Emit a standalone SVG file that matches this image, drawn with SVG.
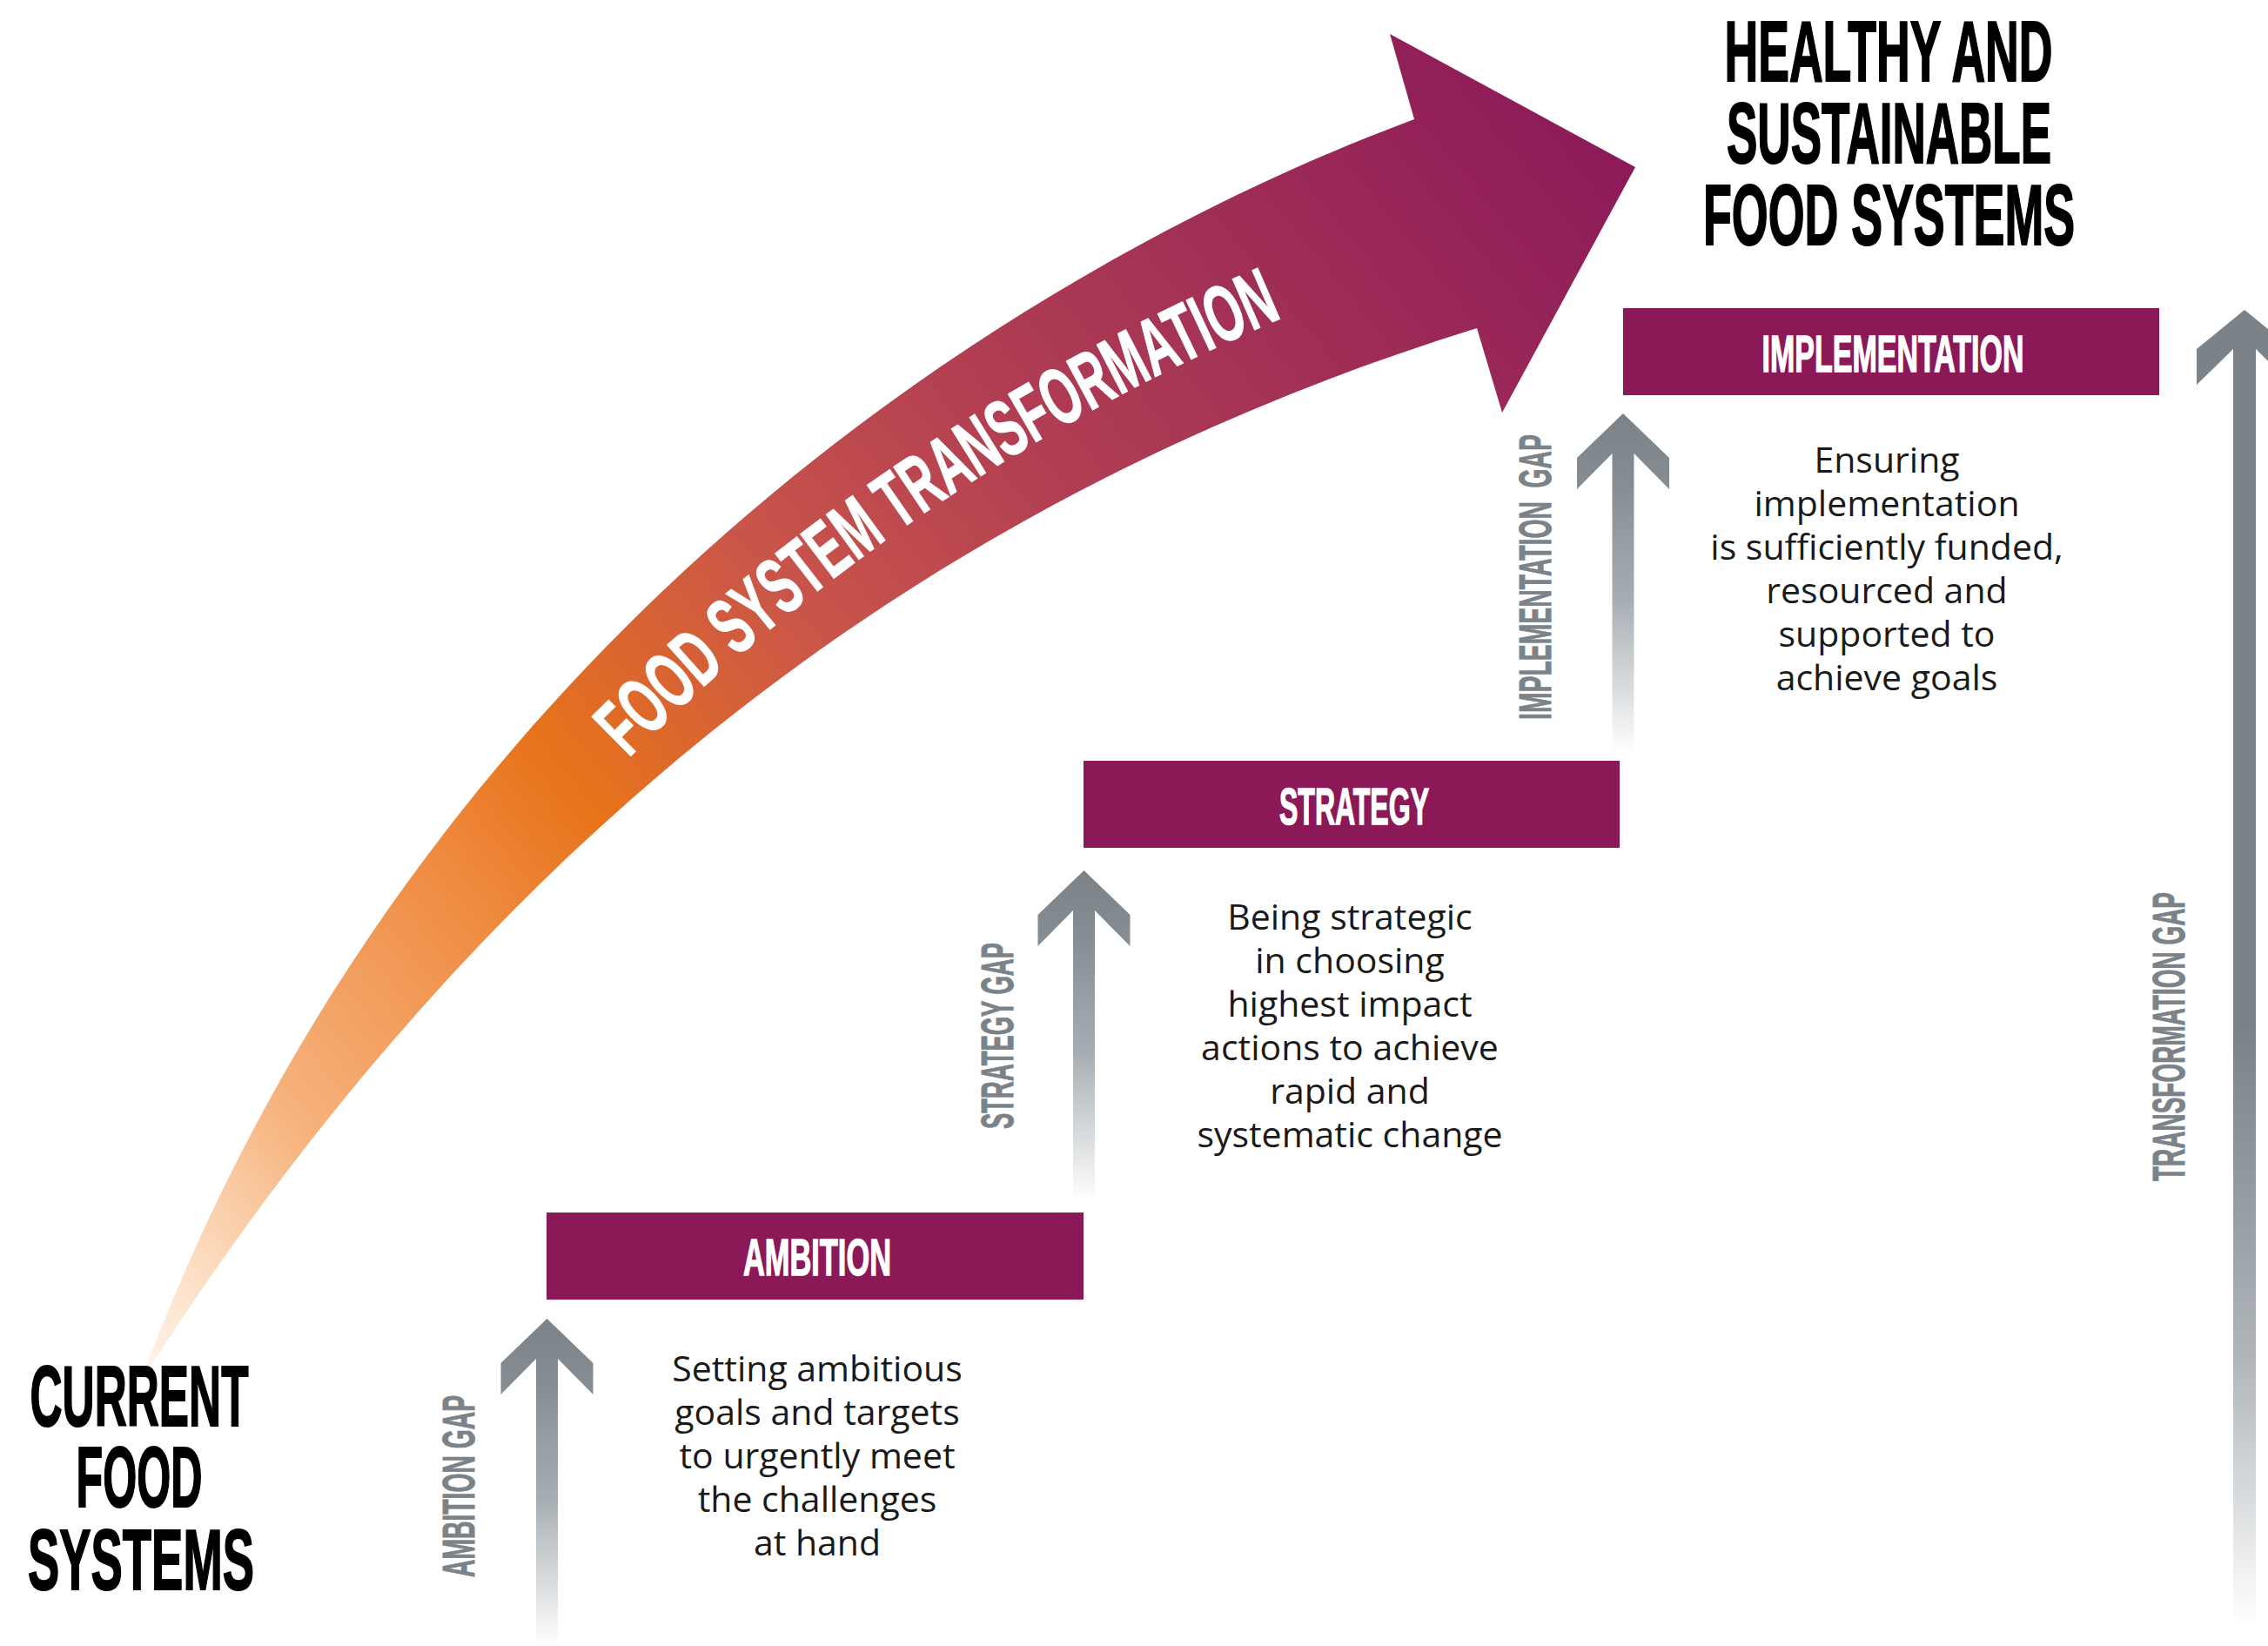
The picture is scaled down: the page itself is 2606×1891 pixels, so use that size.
<svg xmlns="http://www.w3.org/2000/svg" width="2606" height="1891" viewBox="0 0 2606 1891">
<defs>
<linearGradient id="bigArrowGrad" gradientUnits="userSpaceOnUse" x1="160" y1="1590" x2="1879" y2="192">
<stop offset="0" stop-color="#fff6ee"/>
<stop offset="0.05" stop-color="#fde3cc"/>
<stop offset="0.15" stop-color="#f6b27c"/>
<stop offset="0.27" stop-color="#f0914a"/>
<stop offset="0.37" stop-color="#e8731a"/>
<stop offset="0.52" stop-color="#c9554a"/>
<stop offset="0.66" stop-color="#b23f52"/>
<stop offset="0.8" stop-color="#a13056"/>
<stop offset="1" stop-color="#8c1a5a"/>
</linearGradient>
<linearGradient id="gapGrad" x1="0" y1="0" x2="0" y2="1">
<stop offset="0" stop-color="#7b8389"/>
<stop offset="0.2" stop-color="#858d93"/>
<stop offset="0.55" stop-color="#a7aeb3"/>
<stop offset="1" stop-color="#ffffff"/>
</linearGradient>
<linearGradient id="transGrad" x1="0" y1="0" x2="0" y2="1">
<stop offset="0" stop-color="#7b8389"/>
<stop offset="0.55" stop-color="#7b8389"/>
<stop offset="0.8" stop-color="#b0b6ba"/>
<stop offset="1" stop-color="#ffffff"/>
</linearGradient>
<path id="fstPath" d="M722,871 Q1047,546 1478,363 L1600,320"/>
</defs>
<style>
.box{fill:#8b1857}
.cond{font-family:"Liberation Sans Narrow","Liberation Sans",Arial,sans-serif;font-weight:bold}
.boxlabel{font-size:60px;fill:#ffffff;stroke:#ffffff;stroke-width:1.5;text-anchor:middle}
.title{font-size:98px;fill:#000000;stroke:#000000;stroke-width:2;text-anchor:middle}
.gap{font-size:52px;fill:#7b8389;stroke:#7b8389;stroke-width:1;text-anchor:middle}
.body{font-family:"Open Sans","Liberation Sans",sans-serif;font-size:41px;fill:#1a1a1a;text-anchor:middle}
.gapArrow{fill:url(#gapGrad)}
</style>

<g id="transformation-arrow">
<path d="M160,1590 C475,744 1156.5,312 1625,137 L1597,39 L1879,192 L1726,474 L1697,377 C1028.5,584 535,1000 160,1590 Z" fill="url(#bigArrowGrad)"/>
<text class="cond" font-size="92" fill="#ffffff" stroke="#ffffff" stroke-width="1.5"><textPath href="#fstPath" textLength="912" lengthAdjust="spacingAndGlyphs">FOOD SYSTEM TRANSFORMATION</textPath></text>
</g>

<g id="connectors">
<polygon class="gapArrow" points="628.5,1515 681.5,1566 681.5,1602 641,1561 641,1891 616,1891 616,1561 575.5,1602 575.5,1566"/>
<polygon class="gapArrow" points="1245.5,1000 1298.5,1051 1298.5,1087 1258,1046 1258,1380 1233,1380 1233,1046 1192.5,1087 1192.5,1051"/>
<polygon class="gapArrow" points="1865,475 1918,526 1918,562 1877.5,521 1877.5,865 1852.5,865 1852.5,521 1812,562 1812,526"/>
<polygon fill="url(#transGrad)" points="2579,356 2634,401 2634,442 2592,401 2592,1866 2566,1866 2566,401 2524,442 2524,401"/>
</g>

<g id="gap-labels">
<text class="cond gap" transform="translate(545,1707.5) rotate(-90)" textLength="209" lengthAdjust="spacingAndGlyphs">AMBITION GAP</text>
<text class="cond gap" transform="translate(1164,1190) rotate(-90)" textLength="214" lengthAdjust="spacingAndGlyphs" font-size="55">STRATEGY GAP</text>
<text class="cond gap" transform="translate(1782,663) rotate(-90)" textLength="328" lengthAdjust="spacingAndGlyphs">IMPLEMENTATION <tspan dx="14">GAP</tspan></text>
<text class="cond gap" transform="translate(2510,1191) rotate(-90)" textLength="332" lengthAdjust="spacingAndGlyphs">TRANSFORMATION GAP</text>
</g>

<g id="node-current">
<text class="cond title" x="160" y="1638" textLength="251" lengthAdjust="spacingAndGlyphs">CURRENT</text>
<text class="cond title" x="160" y="1731" textLength="145" lengthAdjust="spacingAndGlyphs">FOOD</text>
<text class="cond title" x="162" y="1826" textLength="260" lengthAdjust="spacingAndGlyphs">SYSTEMS</text>
</g>

<g id="node-healthy">
<text class="cond title" x="2170" y="93" textLength="377" lengthAdjust="spacingAndGlyphs">HEALTHY AND</text>
<text class="cond title" x="2170.5" y="187" textLength="373" lengthAdjust="spacingAndGlyphs">SUSTAINABLE</text>
<text class="cond title" x="2170.5" y="281" textLength="427" lengthAdjust="spacingAndGlyphs">FOOD SYSTEMS</text>
</g>

<g id="node-ambition">
<rect class="box" x="628" y="1393" width="617" height="100"/>
<text class="cond boxlabel" x="939" y="1465" textLength="170" lengthAdjust="spacingAndGlyphs">AMBITION</text>
<text class="body" x="939" y="1587">Setting ambitious</text>
<text class="body" x="939" y="1637">goals and targets</text>
<text class="body" x="939" y="1687">to urgently meet</text>
<text class="body" x="939" y="1737">the challenges</text>
<text class="body" x="939" y="1787">at hand</text>
</g>

<g id="node-strategy">
<rect class="box" x="1245" y="874" width="616" height="100"/>
<text class="cond boxlabel" x="1556" y="947" textLength="172" lengthAdjust="spacingAndGlyphs">STRATEGY</text>
<text class="body" x="1551" y="1068">Being strategic</text>
<text class="body" x="1551" y="1118">in choosing</text>
<text class="body" x="1551" y="1168">highest impact</text>
<text class="body" x="1551" y="1218">actions to achieve</text>
<text class="body" x="1551" y="1268">rapid and</text>
<text class="body" x="1551" y="1318">systematic change</text>
</g>

<g id="node-implementation">
<rect class="box" x="1865" y="354" width="616" height="100"/>
<text class="cond boxlabel" x="2175" y="427" textLength="301" lengthAdjust="spacingAndGlyphs">IMPLEMENTATION</text>
<text class="body" x="2168" y="543">Ensuring</text>
<text class="body" x="2168" y="593">implementation</text>
<text class="body" x="2168" y="643">is sufficiently funded,</text>
<text class="body" x="2168" y="693">resourced and</text>
<text class="body" x="2168" y="743">supported to</text>
<text class="body" x="2168" y="793">achieve goals</text>
</g>
</svg>
